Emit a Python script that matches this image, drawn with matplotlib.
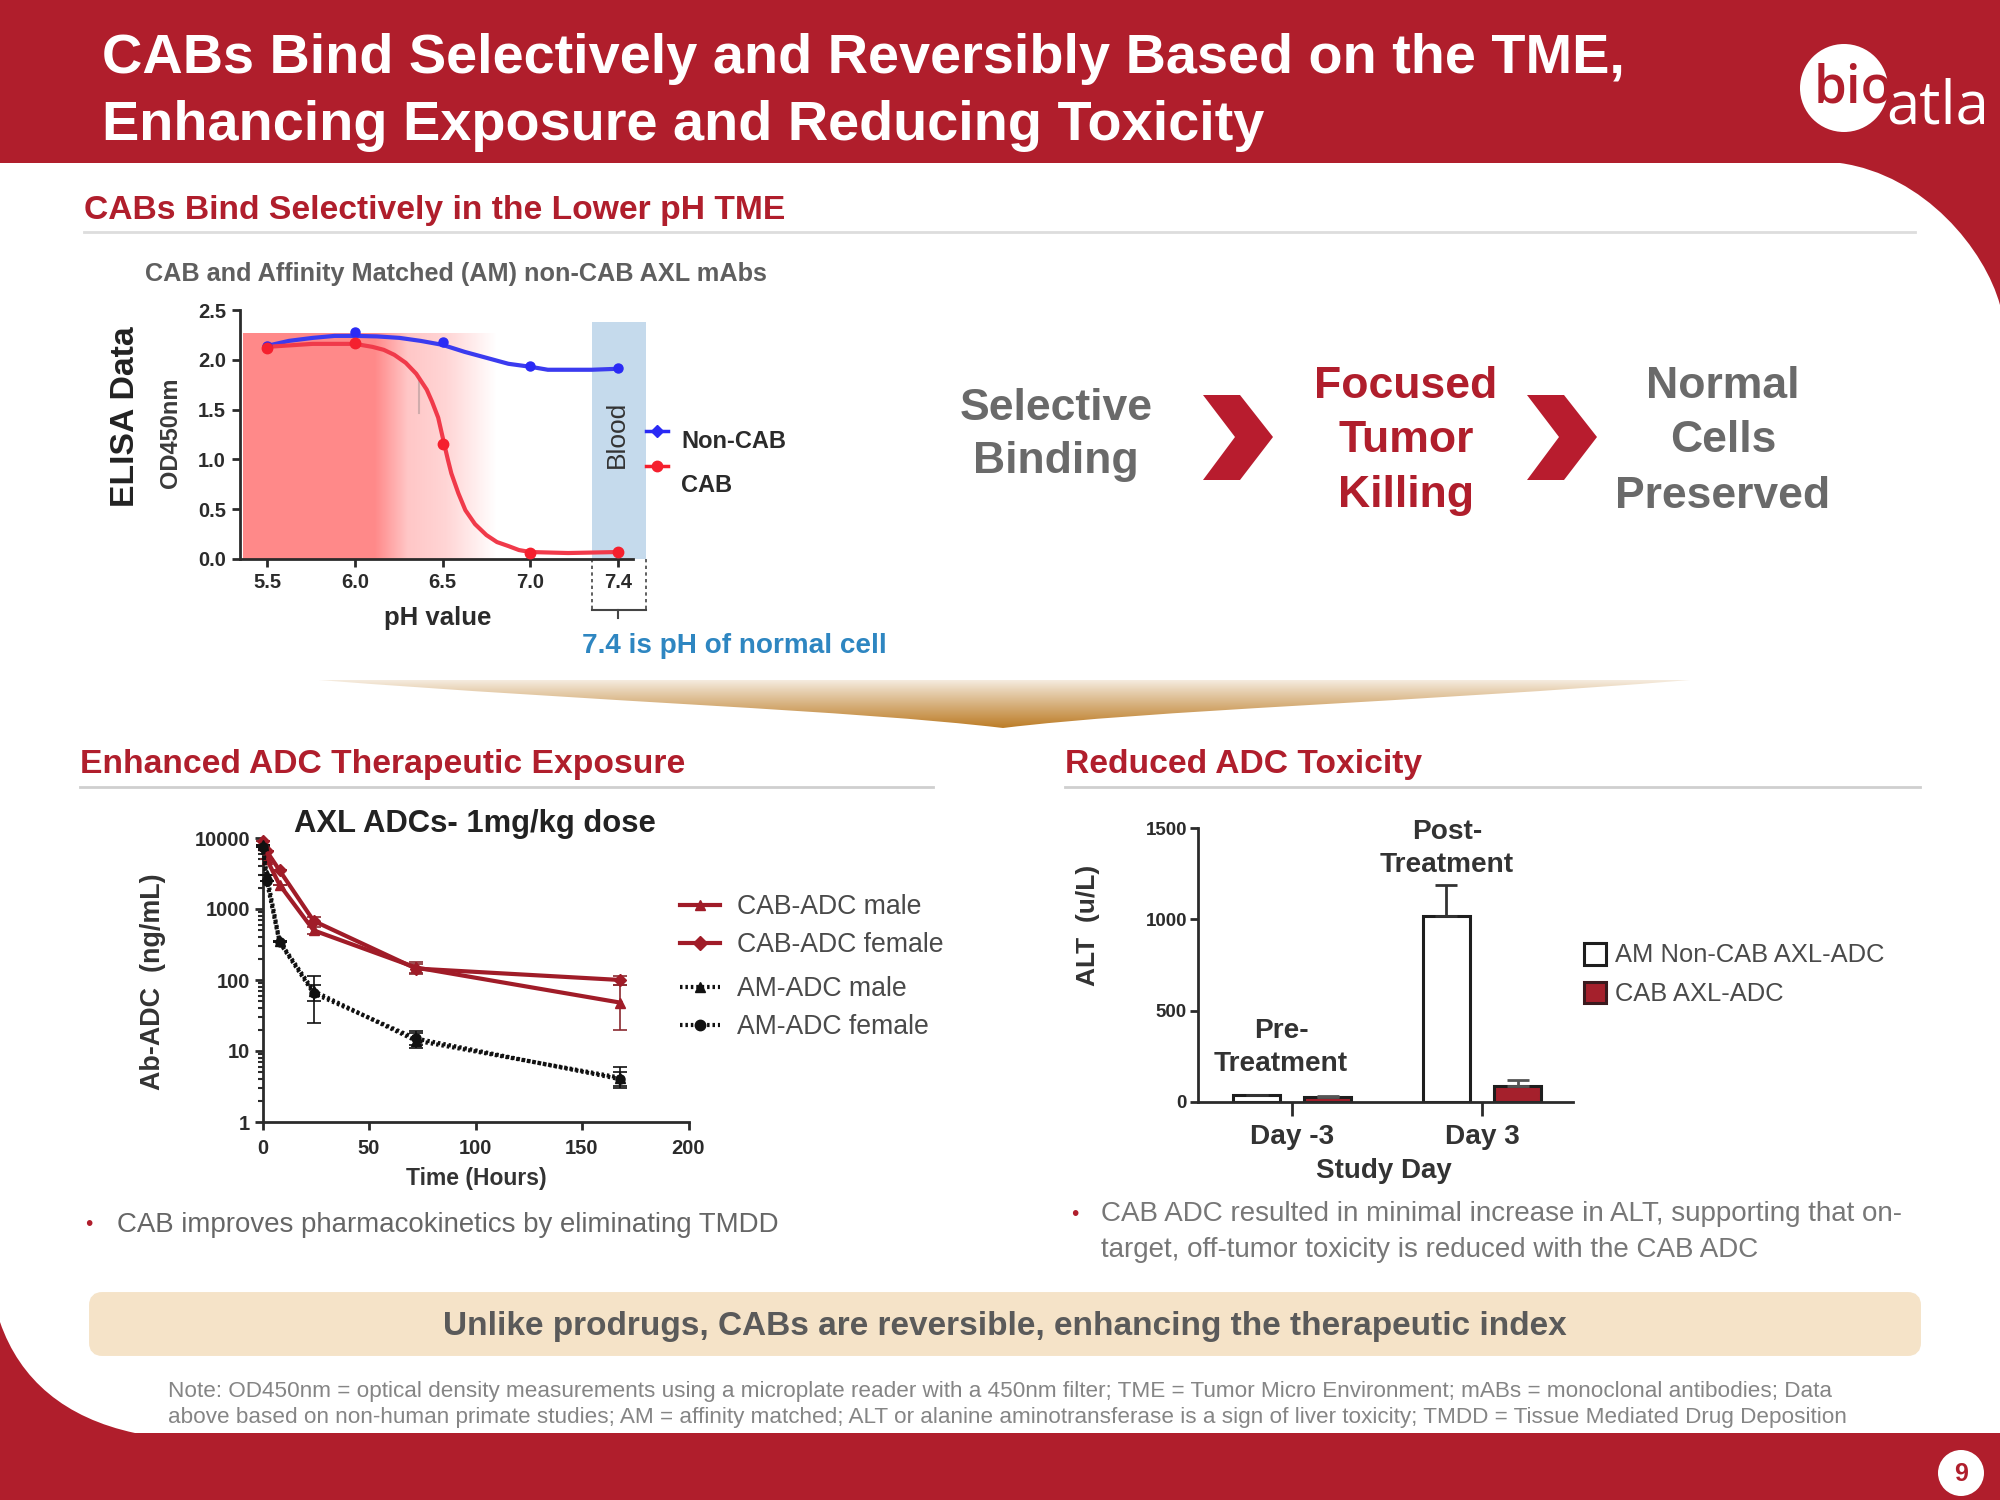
import numpy as np
import matplotlib
matplotlib.use("Agg")
import matplotlib.pyplot as plt
from matplotlib.patches import PathPatch, Polygon, Rectangle, FancyBboxPatch, Circle
from matplotlib.path import Path

plt.rcParams["font.family"] = ["Liberation Sans", "DejaVu Sans"]

RED = "#B01E2C"
DARK = "#2B2B2B"
GREY = "#6A6A6A"

# --- ELISA chart
ph_labels = ["5.5", "6.0", "6.5", "7.0", "7.4"]
ph_pos = [0, 1, 2, 3, 4]
elisa_yticks = [0.0, 0.5, 1.0, 1.5, 2.0, 2.5]
non_cab_points = [2.14, 2.28, 2.18, 1.94, 1.92]
cab_points = [2.12, 2.17, 1.15, 0.06, 0.07]
# fitted curves
non_cab_fit_x = [0, 0.25, 0.52, 0.77, 1.02, 1.25, 1.51, 1.75, 2.0, 2.25, 2.5, 2.75, 3.0, 3.2, 3.43, 3.7, 4]
non_cab_fit_y = [2.14, 2.19, 2.22, 2.24, 2.24, 2.235, 2.22, 2.19, 2.15, 2.08, 2.02, 1.96, 1.93, 1.90, 1.90, 1.90, 1.91]
cab_fit_x = [0, 0.52, 1.0, 1.2, 1.33, 1.45, 1.58, 1.7, 1.82, 1.88, 1.95, 2.02, 2.06, 2.1, 2.18, 2.26, 2.37,
             2.5, 2.62, 2.75, 2.87, 3.0, 3.43, 4]
cab_fit_y = [2.13, 2.16, 2.16, 2.13, 2.10, 2.05, 1.97, 1.86, 1.70, 1.58, 1.42, 1.15, 1.0, 0.86, 0.66, 0.49, 0.35,
             0.24, 0.17, 0.13, 0.09, 0.07, 0.06, 0.07]

# --- PK chart
hours = [0, 2, 8, 24, 72, 168]
cab_male = [8000, 5000, 2200, 500, 150, 48]
cab_female = [9000, 6500, 3500, 680, 145, 100]
am_male = [8000, 3000, 350, 70, 14, 4.2]
am_female = [7500, 2500, 340, 65, 15, 4.0]
cab_male_low = [8000, 5000, 2200, 450, 120, 20]
cab_male_high = [8000, 5000, 2200, 560, 180, 85]
cab_female_low = [9000, 6500, 3500, 620, 125, 85]
cab_female_high = [9000, 6500, 3500, 760, 170, 115]
am_male_low = [8000, 3000, 350, 25, 11, 3]
am_male_high = [8000, 3000, 350, 115, 19, 6]
am_female_low = [7500, 2500, 340, 50, 12, 3.2]
am_female_high = [7500, 2500, 340, 85, 18, 5]

# --- ALT chart
days = ["Day -3", "Day 3"]
alt_non_cab = [36, 1016]
alt_non_cab_err = [4, 174]
alt_cab = [30, 89]
alt_cab_err = [4, 33]
alt_yticks = [0, 500, 1000, 1500]


def ax_px(left, top, right, bottom):
    a = fig.add_axes([left / 2000, 1 - bottom / 1500, (right - left) / 2000, (bottom - top) / 1500])
    a.patch.set_alpha(0)
    a.spines["top"].set_visible(False)
    a.spines["right"].set_visible(False)
    a.spines["left"].set_linewidth(2)
    a.spines["bottom"].set_linewidth(2)
    a.spines["left"].set_color(DARK)
    a.spines["bottom"].set_color(DARK)
    return a


def px_text(x, y, s, size, color=DARK, weight="normal", ha="left", va="center", rot=0, family=None):
    # y is the visual middle of the text, the +3 evens out the descender space
    dx, dy = (0, 3) if rot == 0 else (3, 0)
    bg.text(x + dx, y + dy, s, fontsize=size, color=color, fontweight=weight, ha=ha, va=va,
            rotation=rot, family=family)


fig = plt.figure(figsize=(20, 15), dpi=100, facecolor=RED)

bg = fig.add_axes([0, 0, 1, 1])
bg.axis("off")

# white panel with the two big round corners
verts = [(0, 163), (1840, 163), (1925, 175), (1985, 250), (2000, 305), (2000, 1433),
         (135, 1433), (65, 1418), (20, 1380), (0, 1322), (0, 163)]
codes = [Path.MOVETO, Path.LINETO, Path.CURVE4, Path.CURVE4, Path.CURVE4, Path.LINETO,
         Path.LINETO, Path.CURVE4, Path.CURVE4, Path.CURVE4, Path.CLOSEPOLY]
bg.add_patch(PathPatch(Path(verts, codes), facecolor="white", edgecolor="none"))

# title
px_text(102, 56, "CABs Bind Selectively and Reversibly Based on the TME,", 40.2, "white", "bold")
px_text(102, 123, "Enhancing Exposure and Reducing Toxicity", 40.2, "white", "bold")

# logo
bg.add_patch(Circle((1844, 88), 44, facecolor="white", edgecolor="none"))
px_text(1814, 86, "bio", 38, RED, "semibold", family="Open Sans")
px_text(1886, 105, "atla", 43, "white", family="Open Sans")

# section headings
px_text(84, 208, "CABs Bind Selectively in the Lower pH TME", 24.2, RED, "bold")
bg.plot([84, 1915], [232, 232], color="#DDDDDD", lw=2)
px_text(80, 761, "Enhanced ADC Therapeutic Exposure", 24.2, RED, "bold")
bg.plot([80, 933], [787, 787], color="#CFCFCF", lw=2)
px_text(1065, 762, "Reduced ADC Toxicity", 24.2, RED, "bold")
bg.plot([1065, 1920], [787, 787], color="#CFCFCF", lw=2)

# red pH gradient and blood band behind the ELISA chart
grad_x = np.linspace(0, 1, 260)
red_alpha = np.interp(grad_x, [0, 0.52, 0.65, 0.8, 1.0], [1, 1, 0.48, 0.36, 0])
red_img = np.ones((1, 260, 4))
red_img[..., 0] = 1.0
red_img[..., 1] = 0.54
red_img[..., 2] = 0.54
red_img[..., 3] = red_alpha
bg.imshow(red_img, extent=(243, 497, 559, 333), aspect="auto", zorder=1)
bg.add_patch(Rectangle((592, 322), 54, 237, facecolor="#C5DAEC", edgecolor="none", zorder=1))
bg.plot([419, 419], [380, 413], color="#D0ACAC", lw=1.5, zorder=1)

# gold lens between the rows, pale at the top and brown at the tip
gold_y = np.linspace(0, 1, 100)
gold_img = np.ones((100, 1, 4))
gold_img[..., 0] = 0.74
gold_img[..., 1] = 0.49
gold_img[..., 2] = 0.15
gold_img[..., 3] = (0.12 + 0.88 * gold_y[:, None]) ** 0.9
lens = bg.imshow(gold_img, extent=(319, 1690, 728, 680), aspect="auto", zorder=1)
lens_path = PathPatch(Path([(319, 680), (1690, 680), (1420, 702), (1150, 710), (1003, 728),
                            (850, 710), (600, 702), (319, 680), (319, 680)],
                           [Path.MOVETO, Path.LINETO, Path.CURVE4, Path.CURVE4, Path.CURVE4,
                            Path.CURVE4, Path.CURVE4, Path.CURVE4, Path.CLOSEPOLY]),
                      transform=bg.transData, facecolor="none", edgecolor="none")
bg.add_patch(lens_path)
lens.set_clip_path(lens_path)

# chart 1: ELISA
ax1 = ax_px(240, 310, 633, 559)
ax1.set_xlim(-0.308, 4.17)
ax1.set_ylim(0, 2.5)
ax1.plot(non_cab_fit_x, non_cab_fit_y, color="#3B3BEF", lw=3, zorder=3)
ax1.plot(cab_fit_x, cab_fit_y, color="#F03A4A", lw=3, zorder=3)
ax1.plot(ph_pos, non_cab_points, "o", color="#2A2AF5", ms=6.5, zorder=4, clip_on=False)
ax1.plot(ph_pos, cab_points, "o", color="#F5202E", ms=7.5, zorder=4, clip_on=False)
ax1.set_xticks(ph_pos)
ax1.set_xticklabels(ph_labels, fontsize=14.5, fontweight="bold", color=DARK)
ax1.set_yticks(elisa_yticks)
ax1.set_yticklabels([f"{v:.1f}" for v in elisa_yticks], fontsize=14.5, fontweight="bold", color=DARK)
ax1.tick_params(width=2, length=6, color=DARK, pad=4)

px_text(145, 271, "CAB and Affinity Matched (AM) non-CAB AXL mAbs", 18.2, "#5F5F5F", "bold")
px_text(122, 417, "ELISA Data", 24.3, "#222222", "bold", ha="center", rot=90)
px_text(167, 433, "OD450nm", 17, "#3A3A3A", "bold", ha="center", rot=90)
px_text(614, 434, "Blood", 19, "#333333", ha="center", rot=90)
px_text(438, 615, "pH value", 18.5, DARK, "bold", ha="center")
px_text(734, 643, "7.4 is pH of normal cell", 20.1, "#2E86C1", "bold", ha="center")

bg.plot([646, 668], [431, 431], color="#2A2AF5", lw=2.5)
bg.plot([657], [431], "D", color="#2A2AF5", ms=6)
px_text(681, 438, "Non-CAB", 17, DARK, "bold")
bg.plot([646, 668], [466, 466], color="#F5202E", lw=2.5)
bg.plot([657], [466], "o", color="#F5202E", ms=7.5)
px_text(681, 483, "CAB", 17, DARK, "bold")

# dashed bracket under 7.4
bg.plot([592, 592], [559, 610], color="#444444", lw=1.2, ls=(0, (2, 2)))
bg.plot([646, 646], [559, 610], color="#444444", lw=1.2, ls=(0, (2, 2)))
bg.plot([592, 646], [610, 610], color="#444444", lw=1.5)
bg.plot([618, 618], [610, 618], color="#444444", lw=1.5)

# flow text and chevrons
flow_size = 32
px_text(1056, 405, "Selective", flow_size, GREY, "bold", ha="center")
px_text(1056, 458, "Binding", flow_size, GREY, "bold", ha="center")
px_text(1406, 384, "Focused", flow_size, RED, "bold", ha="center")
px_text(1406, 438, "Tumor", flow_size, RED, "bold", ha="center")
px_text(1406, 493, "Killing", flow_size, RED, "bold", ha="center")
px_text(1723, 384, "Normal", flow_size, GREY, "bold", ha="center")
px_text(1723, 438, "Cells", flow_size, GREY, "bold", ha="center")
px_text(1723, 493, "Preserved", flow_size, GREY, "bold", ha="center")
for cx in [1203, 1527]:
    bg.add_patch(Polygon([(cx, 395), (cx + 37, 395), (cx + 70, 437), (cx + 37, 480),
                          (cx, 480), (cx + 32, 437)], facecolor="#B81C2E", edgecolor="none"))

# chart 2: PK
ax2 = ax_px(262.5, 838, 688.5, 1122)
ax2.set_xlim(0, 200)
ax2.set_yscale("log")
ax2.set_ylim(1, 10000)
CAB_COL = "#A01C28"
AM_COL = "#111111"
series = [
    (cab_male, cab_male_low, cab_male_high, CAB_COL, "^", "-"),
    (cab_female, cab_female_low, cab_female_high, CAB_COL, "D", "-"),
    (am_male, am_male_low, am_male_high, AM_COL, "^", (0, (0.6, 0.7))),
    (am_female, am_female_low, am_female_high, AM_COL, "o", (0, (0.6, 0.7))),
]
for vals, low, high, col, mk, ls in series:
    yerr = [np.array(vals) - np.array(low), np.array(high) - np.array(vals)]
    ax2.errorbar(hours, vals, yerr=yerr, color=col, lw=3, ls=ls, marker=mk, ms=6.5,
                 elinewidth=1.2, capsize=5, capthick=1.2, ecolor=col if col == AM_COL else "#8A2A30",
                 clip_on=False, zorder=3)
ax2.set_xticks([0, 50, 100, 150, 200])
ax2.set_xticklabels(["0", "50", "100", "150", "200"], fontsize=14.5, fontweight="bold", color=DARK)
ax2.set_yticks([1, 10, 100, 1000, 10000])
ax2.set_yticklabels(["1", "10", "100", "1000", "10000"], fontsize=14.5, fontweight="bold", color=DARK)
ax2.tick_params(which="major", width=2, length=6, color=DARK, pad=3)
ax2.tick_params(axis="x", which="major", pad=6)
ax2.tick_params(which="minor", width=1.5, length=3.5, color=DARK)

px_text(475, 821, "AXL ADCs- 1mg/kg dose", 22.3, "#222222", "bold", ha="center")
px_text(150, 982, "Ab-ADC  (ng/mL)", 19.4, "#333333", "bold", ha="center", rot=90)
px_text(476, 1175, "Time (Hours)", 16.5, "#333333", "bold", ha="center")

legend_y = [905, 943, 987, 1025]
legend_names = ["CAB-ADC male", "CAB-ADC female", "AM-ADC male", "AM-ADC female"]
for (vals, low, high, col, mk, ls), ly, name in zip(series, legend_y, legend_names):
    bg.plot([680, 720], [ly, ly], color=col, lw=3, ls=ls, zorder=2)
    bg.plot([700], [ly], mk, color=col, ms=7.5, zorder=2)
    px_text(737, ly - 1, name, 19.2, "#4A4A4A")

px_text(89, 1222, "•", 15, RED, ha="center")
px_text(117, 1222, "CAB improves pharmacokinetics by eliminating TMDD", 19.9, "#666666")

# chart 3: ALT
ax3 = ax_px(1198, 828, 1573, 1102)
ax3.set_xlim(-0.495, 1.479)
ax3.set_ylim(0, 1500)
day_pos = np.arange(len(days))
ax3.bar(day_pos - 0.187, alt_non_cab, width=0.25, color="white", edgecolor="#1E1E1E", lw=2.2,
        yerr=[[0, 0], alt_non_cab_err], error_kw={"ecolor": "#333333", "elinewidth": 2, "capsize": 8, "capthick": 2})
ax3.bar(day_pos + 0.187, alt_cab, width=0.25, color="#A5202C", edgecolor="#1E1E1E", lw=2.2,
        yerr=[[0, 0], alt_cab_err], error_kw={"ecolor": "#555555", "elinewidth": 2, "capsize": 8, "capthick": 2})
ax3.set_xticks(day_pos)
ax3.set_xticklabels(days, fontsize=20.2, fontweight="bold", color="#333333")
ax3.set_yticks(alt_yticks)
ax3.set_yticklabels([str(v) for v in alt_yticks], fontsize=13.5, fontweight="bold", color=DARK)
ax3.tick_params(width=2, length=6, color=DARK, pad=2)
ax3.tick_params(axis="x", pad=6, length=10)

px_text(1085, 925, "ALT  (u/L)", 19, "#333333", "bold", ha="center", rot=90)
px_text(1281, 1028, "Pre-", 20.2, "#333333", "bold", ha="center")
px_text(1281, 1061, "Treatment", 20.2, "#333333", "bold", ha="center")
px_text(1447, 829, "Post-", 20.2, "#333333", "bold", ha="center")
px_text(1447, 862, "Treatment", 20.2, "#333333", "bold", ha="center")
px_text(1384, 1168, "Study Day", 20, "#333333", "bold", ha="center")

bg.add_patch(Rectangle((1584, 943), 22, 22, facecolor="white", edgecolor="#1E1E1E", lw=2.2))
px_text(1615, 952, "AM Non-CAB AXL-ADC", 18.4, "#4A4A4A")
bg.add_patch(Rectangle((1584, 982), 22, 21, facecolor="#A5202C", edgecolor="#3A1A1E", lw=2.2))
px_text(1615, 991, "CAB AXL-ADC", 18.4, "#4A4A4A")

px_text(1075, 1211, "•", 15, RED, ha="center")
px_text(1101, 1211, "CAB ADC resulted in minimal increase in ALT, supporting that on-", 20, "#777777")
px_text(1101, 1247, "target, off-tumor toxicity is reduced with the CAB ADC", 20, "#777777")

# banner and footnote
bg.add_patch(FancyBboxPatch((96, 1299), 1818, 50, boxstyle="round,pad=0,rounding_size=6",
                            mutation_scale=1, facecolor="#F5E3C8", edgecolor="#F5E3C8", lw=10))
px_text(1005, 1323, "Unlike prodrugs, CABs are reversible, enhancing the therapeutic index", 24, "#5A5A5A", "bold", ha="center")
note1 = ("Note: OD450nm = optical density measurements using a microplate reader with a 450nm filter; "
         "TME = Tumor Micro Environment; mABs = monoclonal antibodies; Data")
note2 = ("above based on non-human primate studies; AM = affinity matched; ALT or alanine aminotransferase "
         "is a sign of liver toxicity; TMDD = Tissue Mediated Drug Deposition")
px_text(168, 1388, note1, 16.2, "#858585")
px_text(168, 1415, note2, 16.2, "#858585")

# page number
bg.add_patch(Circle((1961, 1473), 23, facecolor="white", edgecolor="none"))
px_text(1961, 1471, "9", 18, RED, "bold", ha="center")

bg.set_xlim(0, 2000)
bg.set_ylim(1500, 0)

plt.savefig("out.png", dpi=100, facecolor=RED)
plt.close()
